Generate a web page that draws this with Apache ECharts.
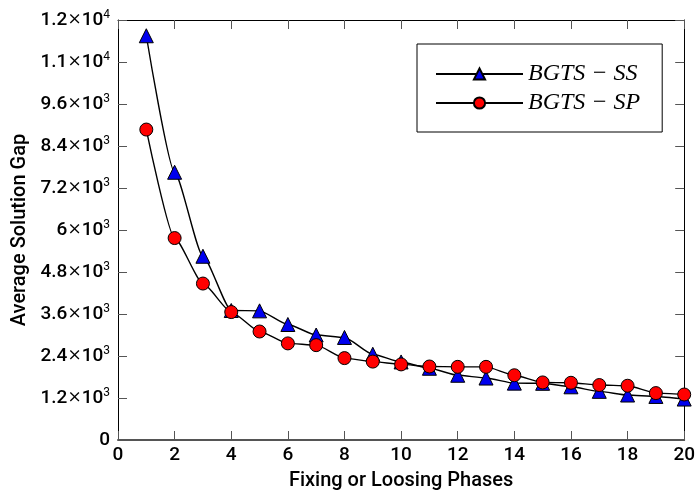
<!DOCTYPE html>
<html>
<head>
<meta charset="UTF-8">
<title>Average Solution Gap</title>
<script src="https://cdn.jsdelivr.net/npm/echarts@6/dist/echarts.min.js"></script>
<style>
    html,body{margin:0;padding:0;background:#fff;}
    #chart{width:698px;height:496px;}
</style>
</head>
<body>
<div id="chart"></div>
<script>
// data
var phases = [1, 2, 3, 4, 5, 6, 7, 8, 9, 10, 11, 12, 13, 14, 15, 16, 17, 18, 19, 20];
var gapSS = [11550, 7650, 5250, 3700, 3690, 3300, 3000, 2930, 2450, 2230,
             2050, 1850, 1770, 1625, 1620, 1520, 1390, 1285, 1245, 1170];
var gapSP = [8870, 5770, 4470, 3655, 3100, 2760, 2710, 2340, 2240, 2160,
             2100, 2090, 2090, 1850, 1645, 1635, 1570, 1550, 1340, 1300];
// y tick labels: [mantissa, exponent]
var yTickLabels = [['0', ''], ['1.2', '3'], ['2.4', '3'], ['3.6', '3'], ['4.8', '3'], ['6', '3'],
                   ['7.2', '3'], ['8.4', '3'], ['9.6', '3'], ['1.1', '4'], ['1.2', '4']];

var FONT = 'Roboto, "Liberation Sans", sans-serif';

function pairs(xs, ys) {
    var out = [];
    for (var i = 0; i < xs.length; i++) out.push([xs[i], ys[i]]);
    return out;
}

var myChart = echarts.init(document.getElementById('chart'));

function ticks() {
    return { show: true, inside: true, length: 9, lineStyle: { color: '#555', width: 1 } };
}
function axisLine(color, width) {
    return { show: true, onZero: false, lineStyle: { color: color, width: width } };
}

var option = {
    animation: false,
    backgroundColor: '#fff',
    grid: { left: 118, right: 9, top: 20, bottom: 55 },
    legend: {
        left: 417,
        top: 44,
        orient: 'vertical',
        itemWidth: 87,
        itemHeight: 14,
        itemGap: 5,
        padding: [18, 22, 17, 18],
        borderColor: '#000',
        borderWidth: 1,
        textStyle: {
            fontFamily: '"Liberation Serif", "DejaVu Serif", serif',
            fontStyle: 'italic',
            fontSize: 24,
            lineHeight: 20,
            color: '#000'
        },
        data: ['BGTS − SS', 'BGTS − SP']
    },
    xAxis: [
        {
            type: 'value',
            position: 'bottom',
            min: 0, max: 20, interval: 2,
            name: 'Fixing or Loosing Phases',
            nameLocation: 'middle',
            nameGap: 31,
            nameTextStyle: { fontFamily: FONT, fontSize: 20, fontWeight: 500, color: '#000' },
            axisLine: axisLine('#555', 2),
            axisTick: ticks(),
            axisLabel: { fontFamily: FONT, fontSize: 19, fontWeight: 500, color: '#000', margin: 6 },
            splitLine: { show: false }
        },
        {
            type: 'value',
            position: 'top',
            min: 0, max: 20, interval: 2,
            axisLine: axisLine('#000', 1),
            axisTick: ticks(),
            axisLabel: { show: false },
            splitLine: { show: false }
        }
    ],
    yAxis: [
        {
            type: 'value',
            position: 'left',
            min: 0, max: 12000, interval: 1200,
            name: 'Average Solution Gap',
            nameLocation: 'middle',
            nameGap: 88,
            nameTextStyle: { fontFamily: FONT, fontSize: 20, fontWeight: 500, color: '#000' },
            axisLine: axisLine('#000', 1),
            axisTick: ticks(),
            axisLabel: {
                margin: 8,
                formatter: function (v) {
                    var t = yTickLabels[Math.round(v / 1200)];
                    if (!t) return '';
                    if (!t[1]) return '{b|' + t[0] + '}';
                    return '{b|' + t[0] + '}{x|×}{b|10}{s|' + t[1] + '}';
                },
                rich: {
                    b: { fontFamily: FONT, fontSize: 19, fontWeight: 500, color: '#000' },
                    x: { fontFamily: '"DejaVu Serif", serif', fontSize: 17, color: '#000' },
                    s: { fontFamily: FONT, fontSize: 12, color: '#000', padding: [0, 0, 11, 0] }
                }
            },
            splitLine: { show: false }
        },
        {
            type: 'value',
            position: 'right',
            min: 0, max: 12000, interval: 1200,
            axisLine: axisLine('#000', 1),
            axisTick: ticks(),
            axisLabel: { show: false },
            splitLine: { show: false }
        }
    ],
    series: [
        {
            name: 'BGTS − SS',
            type: 'line',
            xAxisIndex: 0,
            yAxisIndex: 0,
            smooth: 0.2,
            smoothMonotone: 'x',
            symbol: 'triangle',
            symbolSize: 14,
            itemStyle: { color: '#0000ee', borderColor: '#000', borderWidth: 1 },
            lineStyle: { color: '#000', width: 1.4 },
            data: pairs(phases, gapSS)
        },
        {
            name: 'BGTS − SP',
            type: 'line',
            xAxisIndex: 0,
            yAxisIndex: 0,
            smooth: 0.2,
            smoothMonotone: 'x',
            symbol: 'circle',
            symbolSize: 13,
            itemStyle: { color: '#ff0000', borderColor: '#000', borderWidth: 1 },
            lineStyle: { color: '#000', width: 1.4 },
            data: pairs(phases, gapSP)
        }
    ]
};
myChart.setOption(option);
</script>
</body>
</html>
